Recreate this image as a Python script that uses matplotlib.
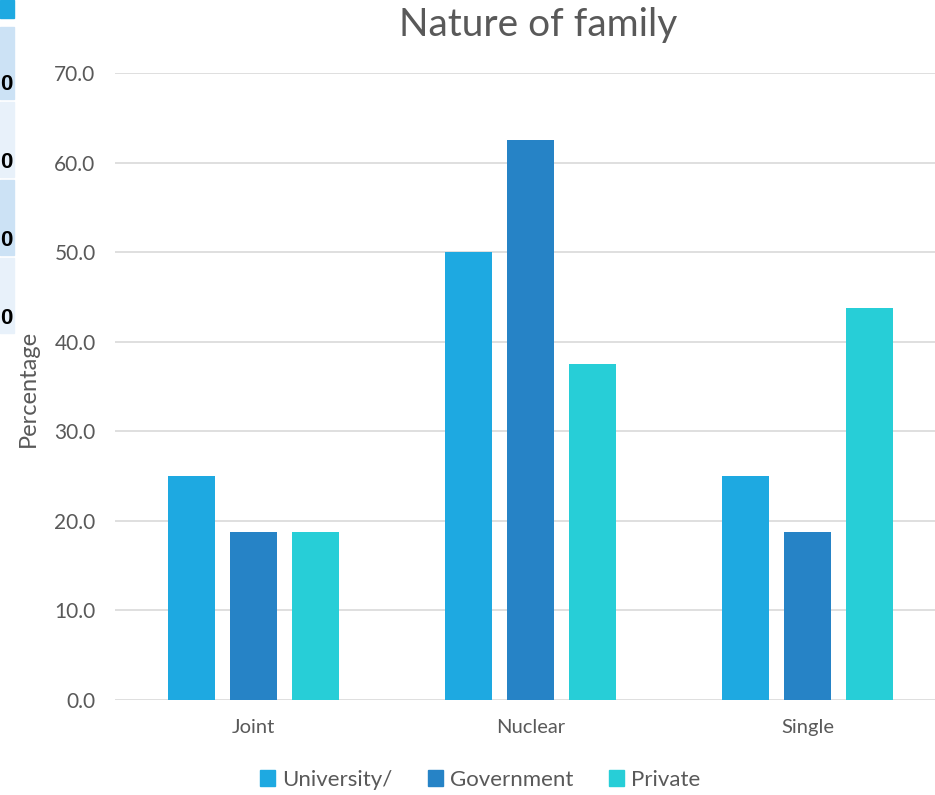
import numpy as np
import matplotlib.pyplot as plt
from matplotlib.patches import Rectangle

categories = ["Joint", "Nuclear", "Single"]
series = ["University/", "Government", "Private"]
university = [25.0, 50.0, 25.0]
government = [18.75, 62.5, 18.75]
private = [18.75, 37.5, 43.75]
colors = ["#1EA9E1", "#2683C6", "#27CED7"]

plt.rcParams['font.family'] = ['Lato', 'DejaVu Sans']

fig = plt.figure(figsize=(9.35, 7.95), dpi=100)
W, H = 935, 795

# spreadsheet cells peeking out behind the chart on the left
fig.patches.append(Rectangle((0, 1 - 18 / H), 14 / W, 18 / H, transform=fig.transFigure,
                             color="#1EA9E1", zorder=0))
cells = [(27, 99, "#CCE2F5"), (102, 177, "#E8F1FA"), (180, 255, "#CCE2F5"), (258, 333, "#E8F1FA")]
for top, bot, c in cells:
    fig.patches.append(Rectangle((0, 1 - bot / H), 14 / W, (bot - top) / H,
                                 transform=fig.transFigure, color=c, zorder=0))
for yc in [84, 162, 241, 318]:
    fig.text(0, 1 - yc / H, "0", fontsize=16, fontweight="bold", color="black",
             ha="left", va="center", family=["Liberation Sans", "DejaVu Sans"])

ax = fig.add_axes([115 / W, 1 - 700 / H, 831 / W, 627 / H])
ax.set_facecolor("none")

x = np.arange(len(categories))
width = 0.17
offset = 0.223
for i, (vals, name) in enumerate(zip([university, government, private], series)):
    ax.bar(x + (i - 1) * offset, vals, width, color=colors[i], label=name, zorder=3)

ax.set_xlim(-0.5, 2.5)
ax.set_ylim(0, 70)
ax.set_yticks(np.arange(0, 71, 10))
ax.set_yticklabels([f"{v:.1f}" for v in np.arange(0, 71, 10)])
ax.set_xticks(x)
ax.set_xticklabels(categories)
ax.tick_params(axis="y", length=0, labelsize=15, colors="#595959", pad=14)
ax.tick_params(axis="x", length=0, labelsize=14.5, colors="#595959", pad=14)
ax.grid(axis="y", color="#D9D9D9", linewidth=1.2, zorder=0)
for s in ax.spines.values():
    s.set_visible(False)

fig.text(28 / W, 1 - 388 / H, "Percentage", rotation=90, fontsize=17, color="#595959",
         ha="center", va="center")
fig.text(538 / W, 1 - 25 / H, "Nature of family", fontsize=28, color="#595959",
         ha="center", va="center")

handles = [Rectangle((0, 0), 1, 1, color=c) for c in colors]
fig.legend(handles, series, loc="center", bbox_to_anchor=(480 / W, 1 - 780 / H), ncol=3,
           frameon=False, fontsize=16, labelcolor="#595959", handlelength=0.7,
           handleheight=0.7, handletextpad=0.3, columnspacing=1.6)

fig.savefig("out.png", dpi=100)
